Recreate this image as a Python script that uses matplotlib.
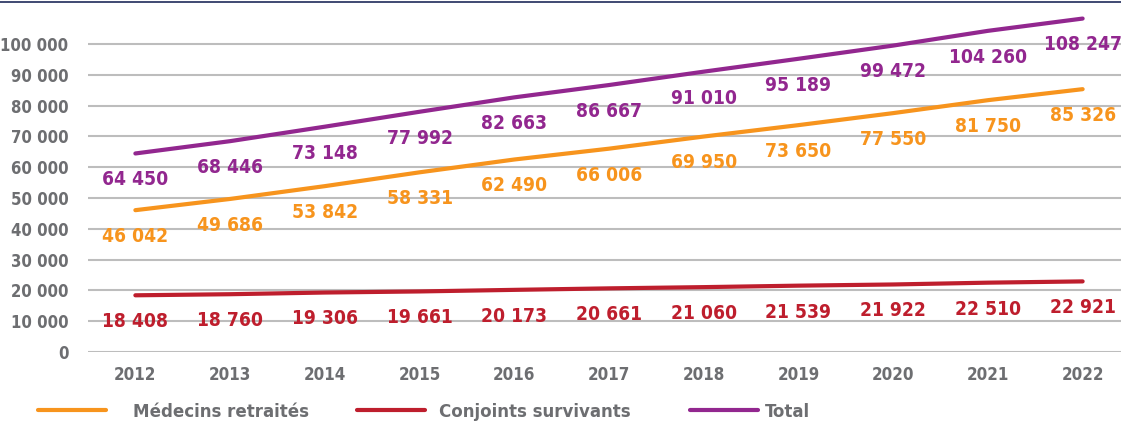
import matplotlib.pyplot as plt
from matplotlib import font_manager as fm
from matplotlib.lines import Line2D
from matplotlib.textpath import TextPath

# Données
annees = ['2012', '2013', '2014', '2015', '2016', '2017', '2018', '2019', '2020', '2021', '2022']
medecins = [46042, 49686, 53842, 58331, 62490, 66006, 69950, 73650, 77550, 81750, 85326]
conjoints = [18408, 18760, 19306, 19661, 20173, 20661, 21060, 21539, 21922, 22510, 22921]
total = [64450, 68446, 73148, 77992, 82663, 86667, 91010, 95189, 99472, 104260, 108247]
series_noms = ['Médecins retraités', 'Conjoints survivants', 'Total']

orange = '#F7941D'
rouge = '#BE1E2D'
violet = '#92278F'
gris = '#6D6E71'


# police étroite et grasse si disponible
def poids(f):
    w = f.weight
    if isinstance(w, str):
        w = fm.weight_dict.get(w, 400)
    return w


etroites = ('condensed', 'semi-condensed', 'extra-condensed', 'ultra-condensed')
police, etirement, meilleur = 'DejaVu Sans', 'normal', -1
for f in fm.fontManager.ttflist:
    nom_etroit = 'Narrow' in f.name or 'Condensed' in f.name
    stretch_etroit = str(f.stretch) in etroites
    if not (nom_etroit or stretch_etroit):
        continue
    score = (2 if poids(f) >= 600 else 0) + (1 if f.style == 'normal' else 0)
    if score > meilleur:
        meilleur = score
        police = f.name
        etirement = 'normal' if nom_etroit and not stretch_etroit else f.stretch

plt.rcParams['font.family'] = [police, 'DejaVu Sans']
plt.rcParams['font.stretch'] = etirement
plt.rcParams['font.weight'] = 'bold'


def fmt(v):
    return f"{v:,}".replace(",", " ")


fig = plt.figure(figsize=(11.21, 4.23), dpi=100)
rend = fig.canvas.get_renderer()
prop = fm.FontProperties(family=[police, 'DejaVu Sans'], weight='bold', stretch=etirement)
h_chiffre = TextPath((0, 0), '0', size=20, prop=prop).get_extents().height * 100 / 72 / 20


def taille(texte, largeur_px, hauteur_px):
    # compromis entre la largeur et la hauteur des chiffres du modèle
    t = fig.text(0, 0, texte, fontsize=20, fontweight='bold')
    w = t.get_window_extent(rend).width
    t.remove()
    s_w = 20 * largeur_px / w
    s_h = hauteur_px / h_chiffre
    return 0.7 * s_w + 0.3 * s_h


fs_y = taille('100 000', 61, 15.5)
fs_x = taille('2012', 39, 15)
fs_val = taille('64 450', 59, 18)
fs_leg = taille('Médecins retraités', 160, 17)

ax = fig.add_axes([88 / 1121, 71 / 423, 1 - 88 / 1121, 345 / 423])

x = list(range(len(annees)))
for vals, col in [(medecins, orange), (conjoints, rouge), (total, violet)]:
    ax.plot(x, vals, color=col, lw=3, solid_capstyle='round', zorder=3)
    for xi, v in zip(x, vals):
        ax.annotate(fmt(v), (xi, v), xytext=(0, -19), textcoords='offset points',
                    ha='center', va='center', color=col, fontsize=fs_val,
                    fontweight='bold', zorder=4)

ax.set_xlim(-0.5, 10.405)
ax.set_ylim(0, 112000)
ax.set_yticks(range(0, 100001, 10000))
ax.set_yticklabels([fmt(v) for v in range(0, 100001, 10000)], fontsize=fs_y)
ax.set_xticks(x)
ax.set_xticklabels(annees, fontsize=fs_x)
ax.yaxis.grid(True, color='#BDBDBD', lw=1.5)
ax.set_axisbelow(True)
ax.tick_params(length=0, labelcolor=gris)
ax.tick_params(axis='y', pad=14)
ax.tick_params(axis='x', pad=10)
for s in ax.spines.values():
    s.set_visible(False)

# Légende manuelle en bas
legende = [(38, 133, orange), (357, 439, rouge), (690, 765, violet)]
for (x0, xt, col), nom in zip(legende, series_noms):
    fig.add_artist(Line2D([x0 / 1121, (x0 + 68) / 1121], [13 / 423, 13 / 423],
                          color=col, lw=3, solid_capstyle='round'))
    fig.text(xt / 1121, 11 / 423, nom, color=gris, fontsize=fs_leg,
             fontweight='bold', ha='left', va='center')

# Filet du haut
fig.add_artist(Line2D([0, 1], [421 / 423, 421 / 423], color='#1F2A5A', lw=1.2))

plt.savefig('out.png', dpi=100)
